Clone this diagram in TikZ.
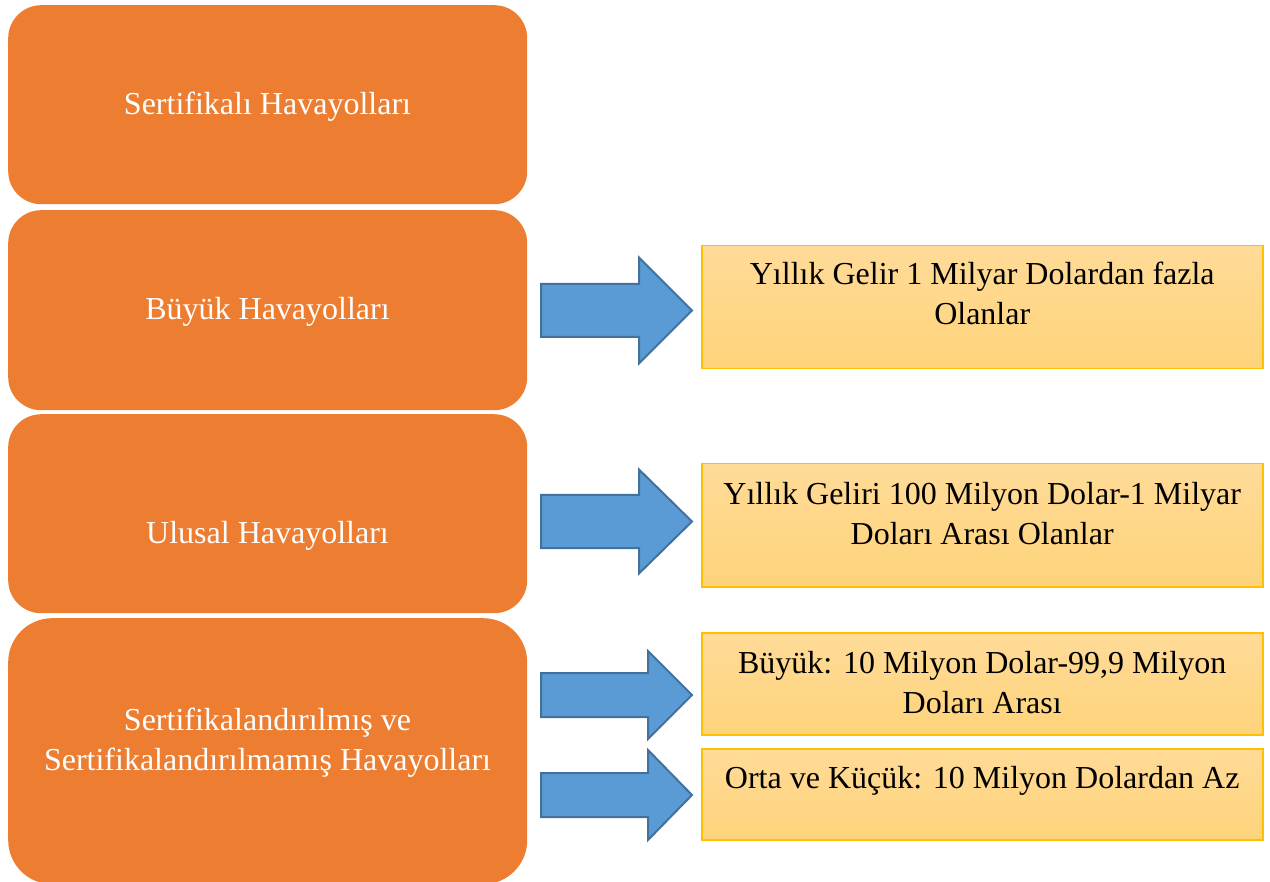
\documentclass[tikz,border=0pt]{standalone}
\usepackage{fontspec}
\setmainfont{Liberation Serif}
\definecolor{tierorange}{RGB}{237,125,49}
\definecolor{arrowblue}{RGB}{91,155,213}
\definecolor{arrowedge}{RGB}{65,113,156}
\definecolor{goldedge}{RGB}{255,192,0}
\definecolor{goldtop}{RGB}{255,219,152}
\definecolor{goldbot}{RGB}{254,211,122}
% block arrow: #1 name, #2 tail x, #3 head base x, #4 tip x, #5 centre y, #6 shaft half, #7 head half
\newcommand{\blockarrow}[7]{%
  \draw[blockarrow] (#2,#5-#6) -- (#3,#5-#6) -- (#3,#5-#7) -- (#4,#5)
    -- (#3,#5+#7) -- (#3,#5+#6) -- (#2,#5+#6) -- cycle;
  \coordinate (#1) at (#4,#5);}
\begin{document}
\begin{tikzpicture}[x=1pt,y=-1pt,
  tier/.style={fill=tierorange, draw=none, rounded corners=#1, inner sep=0pt,
    anchor=north west, minimum width=519pt},
  tiertext/.style={text=white, align=center, inner sep=0pt,
    font=\fontsize{32}{40}\selectfont},
  infobox/.style={top color=goldtop, bottom color=goldbot, draw=goldedge,
    line width=1.5pt, inner sep=0pt, anchor=north west,
    minimum width=561pt},
  infotext/.style={text=black, align=center, inner sep=0pt, anchor=north,
    font=\fontsize{32}{40}\selectfont},
  blockarrow/.style={fill=arrowblue, draw=arrowedge, line width=2pt, line join=miter}]
\useasboundingbox (0,0) rectangle (1270,882);

% left column: airline tiers
\node[tier=33pt, minimum height=199pt] (t1) at (8,5) {};
\node[tier=33pt, minimum height=200pt] (t2) at (8,210) {};
\node[tier=33pt, minimum height=199pt] (t3) at (8,414) {};
\node[tier=44pt, minimum height=266pt] (t4) at (8,618) {};

\node[tiertext] (l1) at (267.5,107) {Sertifikalı Havayolları};
\node[tiertext] (l2) at (267.5,312) {Büyük Havayolları};
\node[tiertext] (l3) at (267.5,535.5) {Ulusal Havayolları};
\node[tiertext] (l4) at (267.5,743) {Sertifikalandırılmış ve\\Sertifikalandırılmamış Havayolları};

% right column: revenue criteria
\node[infobox, minimum height=123pt] (r1) at (701,245) {};
\node[infobox, minimum height=123pt] (r2) at (701,463) {};
\node[infobox, minimum height=102pt] (r3) at (701,632) {};
\node[infobox, minimum height=91pt]  (r4) at (701,748) {};

\node[infotext] (d1) at ([yshift=-17pt]r1.north) {Yıllık Gelir 1 Milyar Dolardan fazla\\Olanlar};
\node[infotext] (d2) at ([yshift=-19pt]r2.north) {Yıllık Geliri 100 Milyon Dolar-1 Milyar\\Doları Arası Olanlar};
\node[infotext] (d3) at ([yshift=-19pt]r3.north) {Büyük: 10 Milyon Dolar-99,9 Milyon\\Doları Arası};
\node[infotext] (d4) at ([yshift=-18pt]r4.north) {Orta ve Küçük: 10 Milyon Dolardan Az};

% block arrows between the columns
\blockarrow{p1}{541}{639}{692}{310.5}{26.5}{53}
\blockarrow{p2}{541}{639}{692}{521.5}{26.5}{52}
\blockarrow{p3}{541}{648}{692}{695}{22}{44}
\blockarrow{p4}{541}{648}{692}{795}{22}{45}
\end{tikzpicture}
\end{document}
